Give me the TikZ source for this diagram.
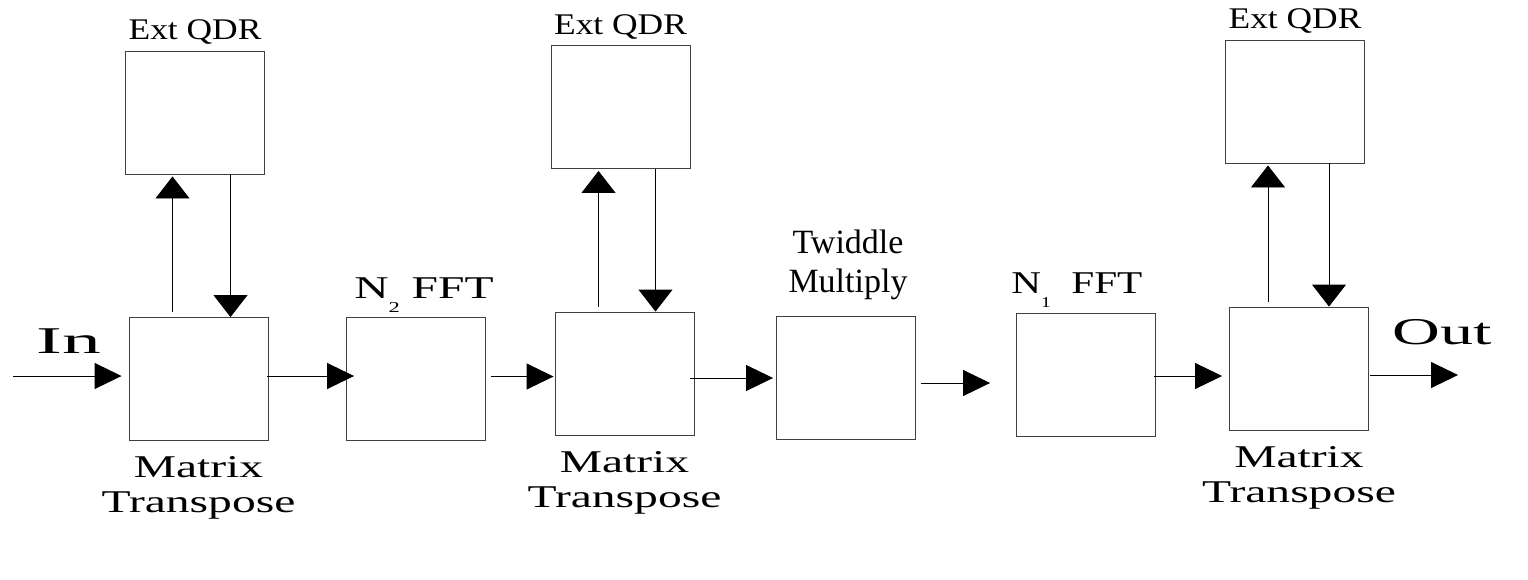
\documentclass[tikz,border=0pt]{standalone}
\usepackage{fontspec}
\setmainfont{Liberation Serif}
\newfontfamily\plainserif{Liberation Serif}
\newfontfamily\qdrserif[FakeStretch=1.18]{Liberation Serif}
\newfontfamily\midserif[FakeStretch=1.3]{Liberation Serif}
\newfontfamily\wideserif[FakeStretch=1.5]{Liberation Serif}
\newfontfamily\ioserif[FakeStretch=1.75]{Liberation Serif}
\newfontfamily\inserif[FakeStretch=2.05]{Liberation Serif}
\usetikzlibrary{arrows.meta}
\usetikzlibrary{calc}

\newcommand{\subidx}[1]{\raisebox{-14pt}{\fontsize{15}{15}\selectfont #1}}

\tikzset{
    blk/.style={draw=black!75, line width=0.9pt, minimum width=139pt,
                minimum height=123pt, inner sep=0pt},
    harrow/.style={line width=0.9pt, -{Triangle[length=27pt,width=26pt]}},
    varrow/.style={line width=0.9pt, -{Triangle[length=22pt,width=34pt]}},
    qdrlbl/.style={anchor=base, inner sep=0pt,
                   font=\qdrserif\fontsize{30}{30}\selectfont},
    mtlbl/.style={anchor=base, inner sep=0pt,
                  font=\wideserif\fontsize{31.7}{31.7}\selectfont},
    tmlbl/.style={anchor=base, inner sep=0pt,
                  font=\plainserif\fontsize{34}{34}\selectfont},
    iolbl/.style={anchor=base, inner sep=0pt,
                  font=\ioserif\fontsize{37.8}{37.8}\selectfont}
}

\begin{document}
\begin{tikzpicture}[x=1pt,y=-1pt]
    \useasboundingbox (0,0) rectangle (1528,579);

    % blocks
    \node[blk] (qdrA) at (195,112.5) {};
    \node[blk] (mtA)  at (198.5,379) {};
    \node[blk] (fftB) at (416,379) {};
    \node[blk] (qdrB) at (620.5,107) {};
    \node[blk] (mtB)  at (624.5,373.5) {};
    \node[blk] (twid) at (846,377.5) {};
    \node[blk] (fftA) at (1086,375) {};
    \node[blk] (mtC)  at (1299,368.5) {};
    \node[blk] (qdrC) at (1295,101.5) {};

    % labels of the transpose stages
    \foreach \g in {A,B,C} {
        \node[qdrlbl] (qdr\g lbl) at ([yshift=11pt]qdr\g.north) {Ext QDR};
        \node[mtlbl] (mt\g top) at ([yshift=-37pt]mt\g.south) {Matrix};
        \node[mtlbl] (mt\g bot) at ([yshift=-72pt]mt\g.south) {Transpose};
    }
    \node[tmlbl] (twidtop) at ([xshift=2pt,yshift=62pt]twid.north) {Twiddle};
    \node[tmlbl] (twidbot) at ([xshift=2pt,yshift=23pt]twid.north) {Multiply};
    \node[mtlbl, anchor=base west] (fftBlbl) at ([xshift=8pt,yshift=19pt]fftB.north west)
        {N\subidx{2} FFT};
    \node[anchor=base west, inner sep=0pt, font=\midserif\fontsize{31.7}{31.7}\selectfont]
        (fftAlbl) at ([xshift=-5pt,yshift=20pt]fftA.north west) {N\subidx{1}\ \ FFT};
    \node[iolbl, font=\inserif\fontsize{37.8}{37.8}\selectfont] (inlbl) at (68.5,353) {In};
    \node[iolbl] (outlbl) at (1442,344) {Out};

    % data path
    \coordinate (inpt) at (13,376);
    \coordinate (outpt) at (1458,375);
    \draw[harrow] (inpt) -- ([xshift=-7pt,yshift=3pt]mtA.west);
    \draw[harrow] ([xshift=-1pt,yshift=3pt]mtA.east) -- ([xshift=8pt,yshift=3pt]fftB.west);
    \draw[harrow] ([xshift=5pt,yshift=2.5pt]fftB.east) -- ([xshift=-1pt,yshift=-3pt]mtB.west);
    \draw[harrow] ([xshift=-4pt,yshift=-4.5pt]mtB.east) -- ([xshift=-3pt,yshift=-0.5pt]twid.west);
    \draw[harrow] ([xshift=5pt,yshift=-5.5pt]twid.east) -- ([xshift=-26pt,yshift=-8pt]fftA.west);
    \draw[harrow] ([xshift=-2pt,yshift=-1pt]fftA.east) -- ([xshift=-7pt,yshift=-7.5pt]mtC.west);
    \draw[harrow] ([xshift=1pt,yshift=-6.5pt]mtC.east) -- (outpt);

    % to and from the external memory
    \foreach \g/\upx/\dnx in {A/-26/32, B/-26/31, C/-31/30} {
        \draw[varrow] ($(mt\g.north)+(\upx,-5)$) -- ($(mt\g.north |- qdr\g.south)+(\upx,2)$);
        \draw[varrow] ($(mt\g.north |- qdr\g.south)+(\dnx,0)$) -- ($(mt\g.north)+(\dnx,0)$);
    }
\end{tikzpicture}
\end{document}
